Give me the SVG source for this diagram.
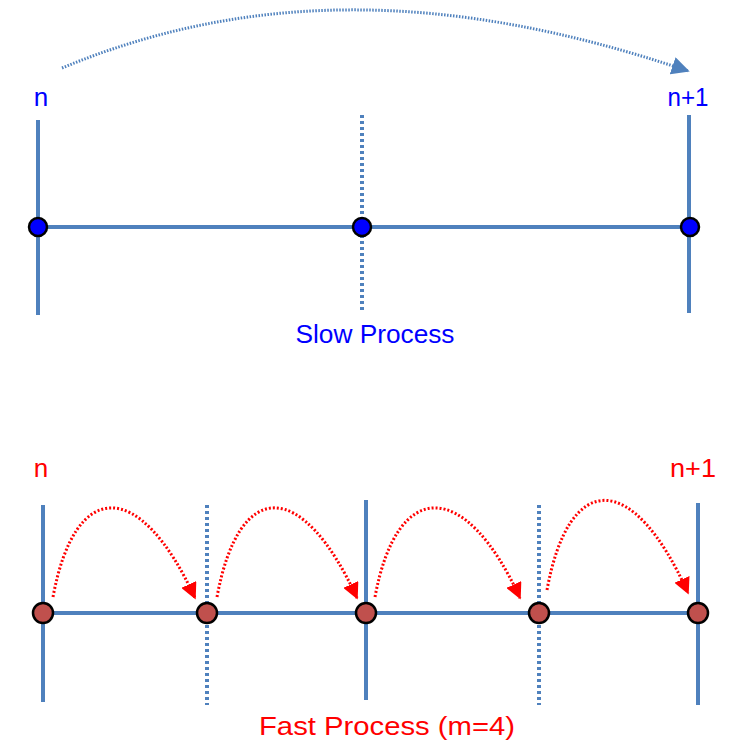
<svg xmlns="http://www.w3.org/2000/svg" width="737" height="745" viewBox="0 0 737 745">
<style>
.ln{stroke:#4f81bd;stroke-width:4;fill:none}
.dl{stroke:#4f81bd;stroke-width:4;fill:none;stroke-dasharray:3,3}
.bn{fill:#0000ff;stroke:#000;stroke-width:2.5}
.rn{fill:#c0504d;stroke:#000;stroke-width:2.5}
.bt{font-family:"Liberation Sans",Arial,sans-serif;fill:#0000ff;font-size:26px}
.rt{font-family:"Liberation Sans",Arial,sans-serif;fill:#ff0000;font-size:26px}
.ba{stroke:#4f81bd;stroke-width:3;fill:none;stroke-dasharray:1.5,1.5}
.ra{stroke:#ff0000;stroke-width:3;fill:none;stroke-dasharray:2,2}
</style>
<defs>
<marker id="ab" viewBox="0 0 10 10" refX="9" refY="5" markerWidth="6" markerHeight="6" markerUnits="strokeWidth" orient="auto"><path d="M0,0 L10,5 L0,10 z" fill="#4f81bd"/></marker>
<marker id="ar" viewBox="0 0 10 10" refX="9" refY="5" markerWidth="5.5" markerHeight="5.5" markerUnits="strokeWidth" orient="auto"><path d="M0,0 L10,5 L0,10 z" fill="#ff0000"/></marker>
</defs>
<g id="connectors">
<path class="ba" d="M62,68 C250,-10 450,-10 688,71" marker-end="url(#ab)"/>
<path class="ra" d="M53,597 C75,478 140,478 195,598" marker-end="url(#ar)"/>
<path class="ra" d="M217,597 C239,478 302,478 357,598" marker-end="url(#ar)"/>
<path class="ra" d="M375,597 C397,478 465,478 520,598" marker-end="url(#ar)"/>
<path class="ra" d="M547,590 C569,470 633,470 688,593" marker-end="url(#ar)"/>
</g>
<g id="slow">
<line class="ln" x1="38" y1="120" x2="38" y2="315"/>
<line class="dl" x1="362" y1="115" x2="362" y2="312"/>
<line class="ln" x1="689" y1="115" x2="689" y2="313"/>
<line class="ln" x1="38" y1="227" x2="689" y2="227"/>
<circle id="s0" class="bn" cx="38" cy="227" r="9"/>
<circle id="s1" class="bn" cx="362" cy="227" r="9"/>
<circle id="s2" class="bn" cx="690" cy="227" r="9"/>
<text class="bt" x="41" y="106" text-anchor="middle">n</text>
<text class="bt" x="688" y="106" text-anchor="middle" textLength="41" lengthAdjust="spacingAndGlyphs">n+1</text>
<text class="bt" x="375" y="343" text-anchor="middle" textLength="159" lengthAdjust="spacingAndGlyphs">Slow Process</text>
</g>
<g id="fast">
<line class="ln" x1="43" y1="505" x2="43" y2="702"/>
<line class="dl" x1="207" y1="505" x2="207" y2="705"/>
<line class="ln" x1="366" y1="500" x2="366" y2="700"/>
<line class="dl" x1="539" y1="505" x2="539" y2="705"/>
<line class="ln" x1="698" y1="503" x2="698" y2="705"/>
<line class="ln" x1="43" y1="613" x2="698" y2="613"/>
<circle id="f0" class="rn" cx="43" cy="613" r="10"/>
<circle id="f1" class="rn" cx="207" cy="613" r="10"/>
<circle id="f2" class="rn" cx="366" cy="613" r="10"/>
<circle id="f3" class="rn" cx="539" cy="613" r="10"/>
<circle id="f4" class="rn" cx="698" cy="613" r="10"/>
<text class="rt" x="41" y="477" text-anchor="middle">n</text>
<text class="rt" x="693" y="477" text-anchor="middle" textLength="46" lengthAdjust="spacingAndGlyphs">n+1</text>
<text class="rt" x="387" y="735" text-anchor="middle" font-size="27" textLength="256" lengthAdjust="spacingAndGlyphs">Fast Process (m=4)</text>
</g>
</svg>
